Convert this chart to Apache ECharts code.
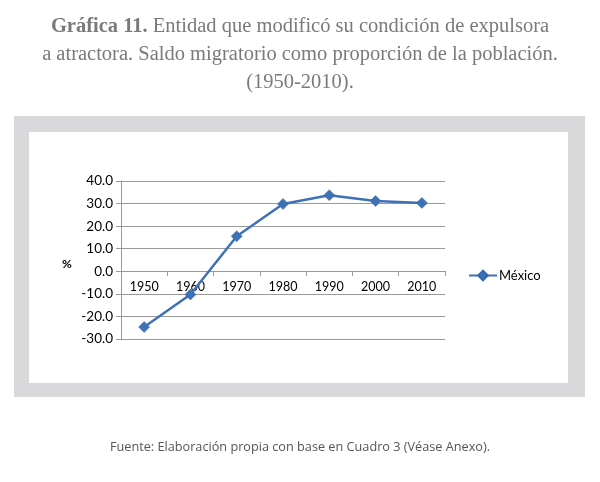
<!DOCTYPE html>
<html><head><meta charset="utf-8">
<script src="https://cdn.jsdelivr.net/npm/echarts@6/dist/echarts.min.js"></script>
<style>html,body{margin:0;padding:0;background:#fff}#c{width:600px;height:482px}</style>
</head><body><div id="c"></div>
<script>
const categories = ['1950','1960','1970','1980','1990','2000','2010'];
const mexico = [-24.7, -10.3, 15.5, 29.8, 33.7, 31.1, 30.3];
const seriesName = 'México';
const yMin = -30, yMax = 40, yStep = 10;
const titleLines = [
  '{b|Gráfica 11.} Entidad que modificó su condición de expulsora',
  'a atractora. Saldo migratorio como proporción de la población.',
  '(1950-2010).'
];
const sourceText = 'Fuente: Elaboración propia con base en Cuadro 3 (Véase Anexo).';

const chart = echarts.init(document.getElementById('c'));
const lab = 'Lato, "Open Sans", sans-serif';
const serif = '"Liberation Serif", serif';
const titleGraphics = titleLines.map((t, i) => ({
  type:'text', x:300, y:27 + i*28, z:5,
  style:{text:t, x:0, y:0, align:'center', verticalAlign:'middle',
    font:'20.5px '+serif, fill:'#7a7a7a',
    rich:{b:{font:'bold 20.5px '+serif, fill:'#7a7a7a'}}}
}));
chart.setOption({
  animation: false,
  backgroundColor: '#fff',
  graphic: [
    {type:'rect', shape:{x:14,y:116,width:571,height:281}, style:{fill:'#d9d9db'}, z:-10},
    {type:'rect', shape:{x:29,y:132,width:539,height:251}, style:{fill:'#fff'}, z:-9},
    ...titleGraphics,
    {type:'text', x:300, y:447, style:{text:sourceText, align:'center', verticalAlign:'middle', font:'12.7px "Open Sans", sans-serif', fill:'#555'}},
    {type:'text', x:62, y:264, style:{text:'%', verticalAlign:'middle', font:'bold 12px '+lab, fill:'#000'}}
  ],
  legend: {
    left:463, top:264, itemWidth:28, itemHeight:12, itemGap:0,
    textStyle:{fontFamily:lab, fontSize:13, color:'#000', padding:[0,0,0,-3]},
    data:[{name:seriesName}]
  },
  grid: {left:121, right:155, top:181, bottom:143},
  xAxis: {
    type:'category', data:categories, boundaryGap:true,
    offset:-68,
    axisLine:{onZero:false, lineStyle:{color:'#999', width:1}},
    axisTick:{show:true, alignWithLabel:false, length:5, lineStyle:{color:'#999'}},
    axisLabel:{fontFamily:lab, fontSize:12.5, color:'#000', margin:9},
    splitLine:{show:false}
  },
  yAxis: {
    type:'value', min:yMin, max:yMax, interval:yStep,
    axisLine:{show:true, lineStyle:{color:'#999'}},
    axisTick:{show:true, inside:false, length:5, lineStyle:{color:'#999'}},
    axisLabel:{fontFamily:lab, fontSize:13.5, color:'#000', margin:8, formatter:v=>v.toFixed(1)},
    splitLine:{show:true, lineStyle:{color:'#9a9a9a', width:1}}
  },
  series: [{
    name:seriesName, type:'line', data:mexico,
    symbol:'diamond', symbolSize:11,
    lineStyle:{color:'#3e71b5', width:2.5},
    itemStyle:{color:'#3e71b5', borderColor:'#3569a8', borderWidth:0.5}
  }]
});
</script></body></html>
